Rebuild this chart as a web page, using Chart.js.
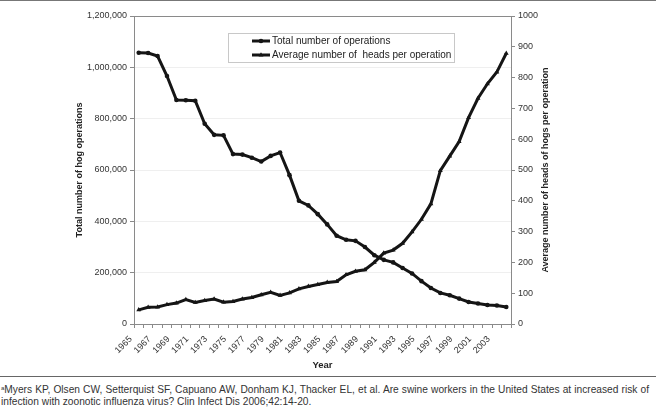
<!DOCTYPE html>
<html>
<head>
<meta charset="utf-8">
<script src="https://cdn.jsdelivr.net/npm/chart.js@4.4.0/dist/chart.umd.min.js"></script>
<style>
  body { margin: 0; background: #fff; }
  #page { position: relative; width: 656px; height: 408px; overflow: hidden; }
  #topRule { position: absolute; left: 0; top: 0; width: 656px; height: 1px; background: #777; }
  #box { position: absolute; left: 0; top: 0; width: 656px; height: 376px; }
  #bottomRule { position: absolute; left: 0; top: 376px; width: 656px; height: 1px; background: #666; }
  #note {
    position: absolute; left: 1px; top: 384px; width: 648px;
    font-family: "Liberation Sans", Arial, sans-serif; font-size: 10.2px; line-height: 11.5px;
    color: #333; text-align: justify; text-align-last: left;
  }
  #note sup { font-size: 6px; vertical-align: 3px; line-height: 0; }
</style>
</head>
<body>
<div id="page">
  <div id="topRule"></div>
  <div id="box"><canvas id="hogChart"></canvas></div>
  <div id="bottomRule"></div>
  <div id="note"><sup>a</sup>Myers KP, Olsen CW, Setterquist SF, Capuano AW, Donham KJ, Thacker EL, et al. Are swine workers in the United States at increased risk of infection with zoonotic influenza virus? Clin Infect Dis 2006;42:14-20.</div>
</div>
<script>
// hog operations vs. average herd size, 1965-2004

const years = ['1965', '1966', '1967', '1968', '1969', '1970', '1971', '1972', '1973', '1974',
    '1975', '1976', '1977', '1978', '1979', '1980', '1981', '1982', '1983', '1984',
    '1985', '1986', '1987', '1988', '1989', '1990', '1991', '1992', '1993', '1994',
    '1995', '1996', '1997', '1998', '1999', '2000', '2001', '2002', '2003', '2004']

const totalOperations = [1057000, 1056000, 1044000, 966000, 873000, 872000, 870000, 780000, 737000, 735000,
    662000, 660000, 648000, 633000, 655000, 668000, 580000, 480000, 462000, 428000,
    388000, 344000, 328000, 324000, 300000, 268000, 250000, 240000, 218000, 197000,
    167000, 140000, 121000, 112000, 99000, 86000, 80000, 74000, 72000, 66000]

const headsPerOperation = [46, 54, 55, 63, 68, 79, 70, 76, 81, 71,
    73, 81, 86, 95, 103, 93, 101, 114, 122, 128,
    135, 138, 160, 171, 176, 200, 230, 240, 262, 299,
    340, 390, 498, 545, 592, 670, 733, 780, 818, 879]

const leftTicks = [0, 200000, 400000, 600000, 800000, 1000000, 1200000]
const rightTicks = [0, 100, 200, 300, 400, 500, 600, 700, 800, 900, 1000]

const rightTitle = 'Average number of heads of hogs per operation'

const labelColor = '#333'
const axisColor = '#8a8a8a'
const fontFamily = '"Liberation Sans", Arial, sans-serif'

// gray frame round the plot area
const frame = {
    id: 'frame',
    beforeDatasetsDraw(chart) {
        const { ctx, chartArea: a } = chart
        ctx.save()
        ctx.strokeStyle = axisColor
        ctx.lineWidth = 1
        ctx.strokeRect(Math.round(a.left) + 0.5, Math.round(a.top) + 0.5,
            Math.round(a.right - a.left), Math.round(a.bottom - a.top))
        ctx.restore()
    }
}

// right axis title reads bottom to top, like the left one
const rightAxisTitle = {
    id: 'rightAxisTitle',
    afterDraw(chart) {
        const { ctx, chartArea: a } = chart
        const sc = chart.scales.y2
        ctx.save()
        ctx.translate(sc.right - 10, (a.top + a.bottom) / 2)
        ctx.rotate(-Math.PI / 2)
        ctx.fillStyle = '#222'
        ctx.font = 'bold 9px ' + fontFamily
        ctx.textAlign = 'center'
        ctx.textBaseline = 'middle'
        ctx.fillText(rightTitle, 0, 0)
        ctx.restore()
    }
}

// boxed legend sitting inside the plot
const boxLegend = {
    id: 'boxLegend',
    afterDraw(chart) {
        const ctx = chart.ctx
        const x = 228, y = 33, w = 226, h = 29
        ctx.save()
        ctx.fillStyle = '#fff'
        ctx.fillRect(x, y, w, h)
        ctx.strokeStyle = '#c8c8c8'
        ctx.lineWidth = 1
        ctx.strokeRect(x + 0.5, y + 0.5, w, h)
        chart.data.datasets.forEach((ds, i) => {
            const cy = 41 + i * 14
            ctx.strokeStyle = ds.borderColor
            ctx.lineWidth = 3
            ctx.beginPath()
            ctx.moveTo(252, cy)
            ctx.lineTo(270, cy)
            ctx.stroke()
            ctx.fillStyle = ds.borderColor
            ctx.lineWidth = 0.5
            Chart.helpers.drawPoint(ctx, { pointStyle: ds.pointStyle, radius: ds.pointRadius, borderWidth: 0 }, 261, cy)
            ctx.fillStyle = '#222'
            ctx.font = '10px ' + fontFamily
            ctx.textBaseline = 'middle'
            ctx.textAlign = 'left'
            ctx.fillText(ds.label, 272, cy + 0.5)
        })
        ctx.restore()
    }
}

const ctx = document.getElementById('hogChart')

new Chart(ctx, {
    type: 'line',
    data: {
        labels: years,
        datasets: [
            {
                label: 'Total number of operations',
                data: totalOperations,
                yAxisID: 'y',
                borderColor: '#151515',
                backgroundColor: '#151515',
                borderWidth: 3,
                pointStyle: 'circle',
                pointRadius: 2.3,
                pointBorderWidth: 0,
                tension: 0
            },
            {
                label: 'Average number of  heads per operation',
                data: headsPerOperation,
                yAxisID: 'y2',
                borderColor: '#151515',
                backgroundColor: '#151515',
                borderWidth: 3,
                pointStyle: 'triangle',
                pointRadius: 2.8,
                pointBorderWidth: 0,
                tension: 0
            }
        ]
    },
    options: {
        responsive: true,
        maintainAspectRatio: false,
        animation: false,
        layout: { padding: { left: 70, right: 100, top: 16, bottom: 1 } },
        plugins: {
            legend: { display: false },
            tooltip: { enabled: false }
        },
        scales: {
            x: {
                offset: true,
                grid: { display: true, drawOnChartArea: false, offset: true, tickLength: 4, color: axisColor },
                border: { color: axisColor },
                ticks: {
                    autoSkip: false,
                    minRotation: 45,
                    maxRotation: 45,
                    padding: 6,
                    labelOffset: -8,
                    color: labelColor,
                    font: { family: fontFamily, size: 9 },
                    callback: function (value, index) {
                        return index % 2 === 0 ? this.getLabelForValue(value) : ''
                    }
                },
                title: {
                    display: true, text: 'Year', color: '#222',
                    font: { family: fontFamily, size: 9.5, weight: 'bold' },
                    padding: { top: 2, bottom: 4 }
                },
                afterFit: (scale) => { scale.height = 51 }
            },
            y: {
                position: 'left',
                min: 0,
                max: 1200000,
                afterBuildTicks: (scale) => { scale.ticks = leftTicks.map(v => ({ value: v })) },
                grid: { color: '#efefef', tickColor: axisColor, tickLength: 4 },
                border: { color: axisColor },
                ticks: {
                    padding: 3,
                    color: labelColor,
                    font: { family: fontFamily, size: 9 },
                    callback: (v) => v.toLocaleString('en-US')
                },
                title: {
                    display: true, text: 'Total number of hog operations', color: '#222',
                    font: { family: fontFamily, size: 9, weight: 'bold' },
                    padding: { top: 4, bottom: 4 }
                },
                afterFit: (scale) => { scale.width = 64 }
            },
            y2: {
                position: 'right',
                min: 0,
                max: 1000,
                afterBuildTicks: (scale) => { scale.ticks = rightTicks.map(v => ({ value: v })) },
                grid: { drawOnChartArea: false, color: axisColor, tickLength: 4 },
                border: { color: axisColor },
                ticks: {
                    padding: 3,
                    color: labelColor,
                    font: { family: fontFamily, size: 9 },
                    callback: (v) => String(v)
                },
                title: { display: false },
                afterFit: (scale) => { scale.width = 45 }
            }
        }
    },
    plugins: [frame, rightAxisTitle, boxLegend]
})
</script>
</body>
</html>
